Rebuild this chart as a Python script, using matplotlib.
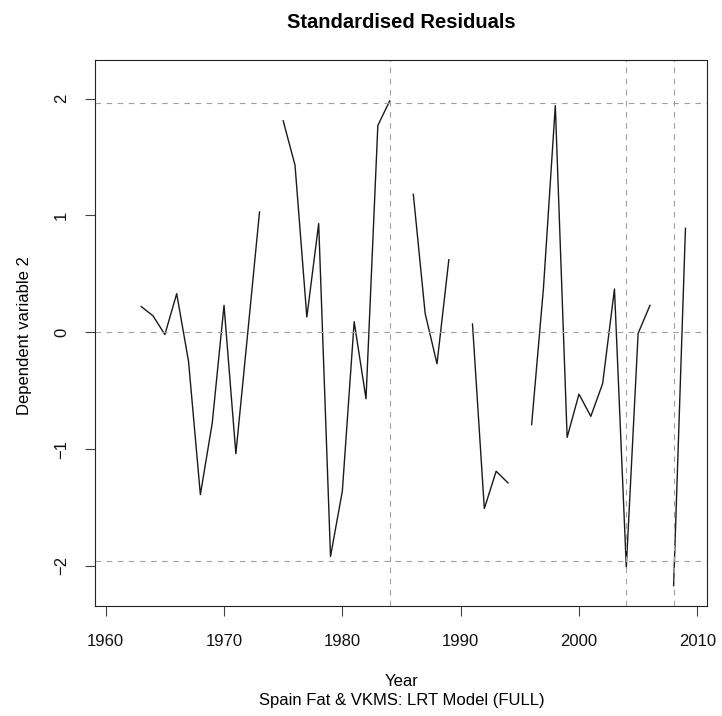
import numpy as np
import matplotlib.pyplot as plt

plt.rcParams['font.family'] = ['Liberation Sans', 'DejaVu Sans']

# standardised residuals per year, NaN where the series breaks
years = np.arange(1963, 2010)
resid = [0.22, 0.14, -0.02, 0.33, -0.25, -1.39, -0.78, 0.23, -1.04, -0.01,
         1.03, np.nan, 1.81, 1.43, 0.13, 0.93, -1.92, -1.36, 0.09, -0.57,
         1.77, 1.98, np.nan, 1.18, 0.16, -0.27, 0.62, np.nan, 0.07, -1.51,
         -1.19, -1.29, np.nan, -0.79, 0.38, 1.94, -0.90, -0.53, -0.72, -0.44,
         0.37, -2.01, -0.01, 0.23, np.nan, -2.17, 0.89]
ref_levels = [-1.96, 0, 1.96]
break_years = [1984, 2004, 2008]
xticks = [1960, 1970, 1980, 1990, 2000, 2010]
yticks = [-2, -1, 0, 1, 2]
ytick_labels = ['\u22122', '\u22121', '0', '1', '2']

fig = plt.figure(figsize=(7.22, 7.16), dpi=100)
ax = fig.add_axes([0.132, 0.1536, 0.8477, 0.7622])

ax.plot(years, resid, color='#1a1a1a', lw=1.0)

for h in ref_levels:
    ax.axhline(h, color='#a0a0a0', lw=0.8, dashes=(5, 5))
for v in break_years:
    ax.axvline(v, color='#a0a0a0', lw=0.8, dashes=(5, 5))

ax.set_xlim(1959.12, 2010.85)
ax.set_ylim(-2.344, 2.328)
ax.set_xticks(xticks)
ax.set_yticks(yticks)
ax.set_yticklabels(ytick_labels, rotation=90, va='center')
ax.tick_params(axis='both', direction='out', length=7, width=0.8,
               color='#444444', labelsize=12, labelcolor='#111111')
ax.tick_params(axis='x', pad=13)
ax.tick_params(axis='y', pad=12)
for s in ax.spines.values():
    s.set_color('#222222')
    s.set_linewidth(0.8)

cx = 0.132 + 0.8477 / 2
fig.text(cx, 1 - 22 / 716, 'Standardised Residuals', ha='center', va='center',
         fontsize=14.5, fontweight='bold')
fig.text(cx, 1 - 681 / 716, 'Year', ha='center', va='center', fontsize=12)
fig.text(cx, 1 - 701 / 716, 'Spain Fat & VKMS: LRT Model (FULL)',
         ha='center', va='center', fontsize=12)
fig.text(25 / 722, 1 - 336 / 716, 'Dependent variable 2', ha='center',
         va='center', rotation=90, fontsize=12)

fig.savefig('out.png', dpi=100)
